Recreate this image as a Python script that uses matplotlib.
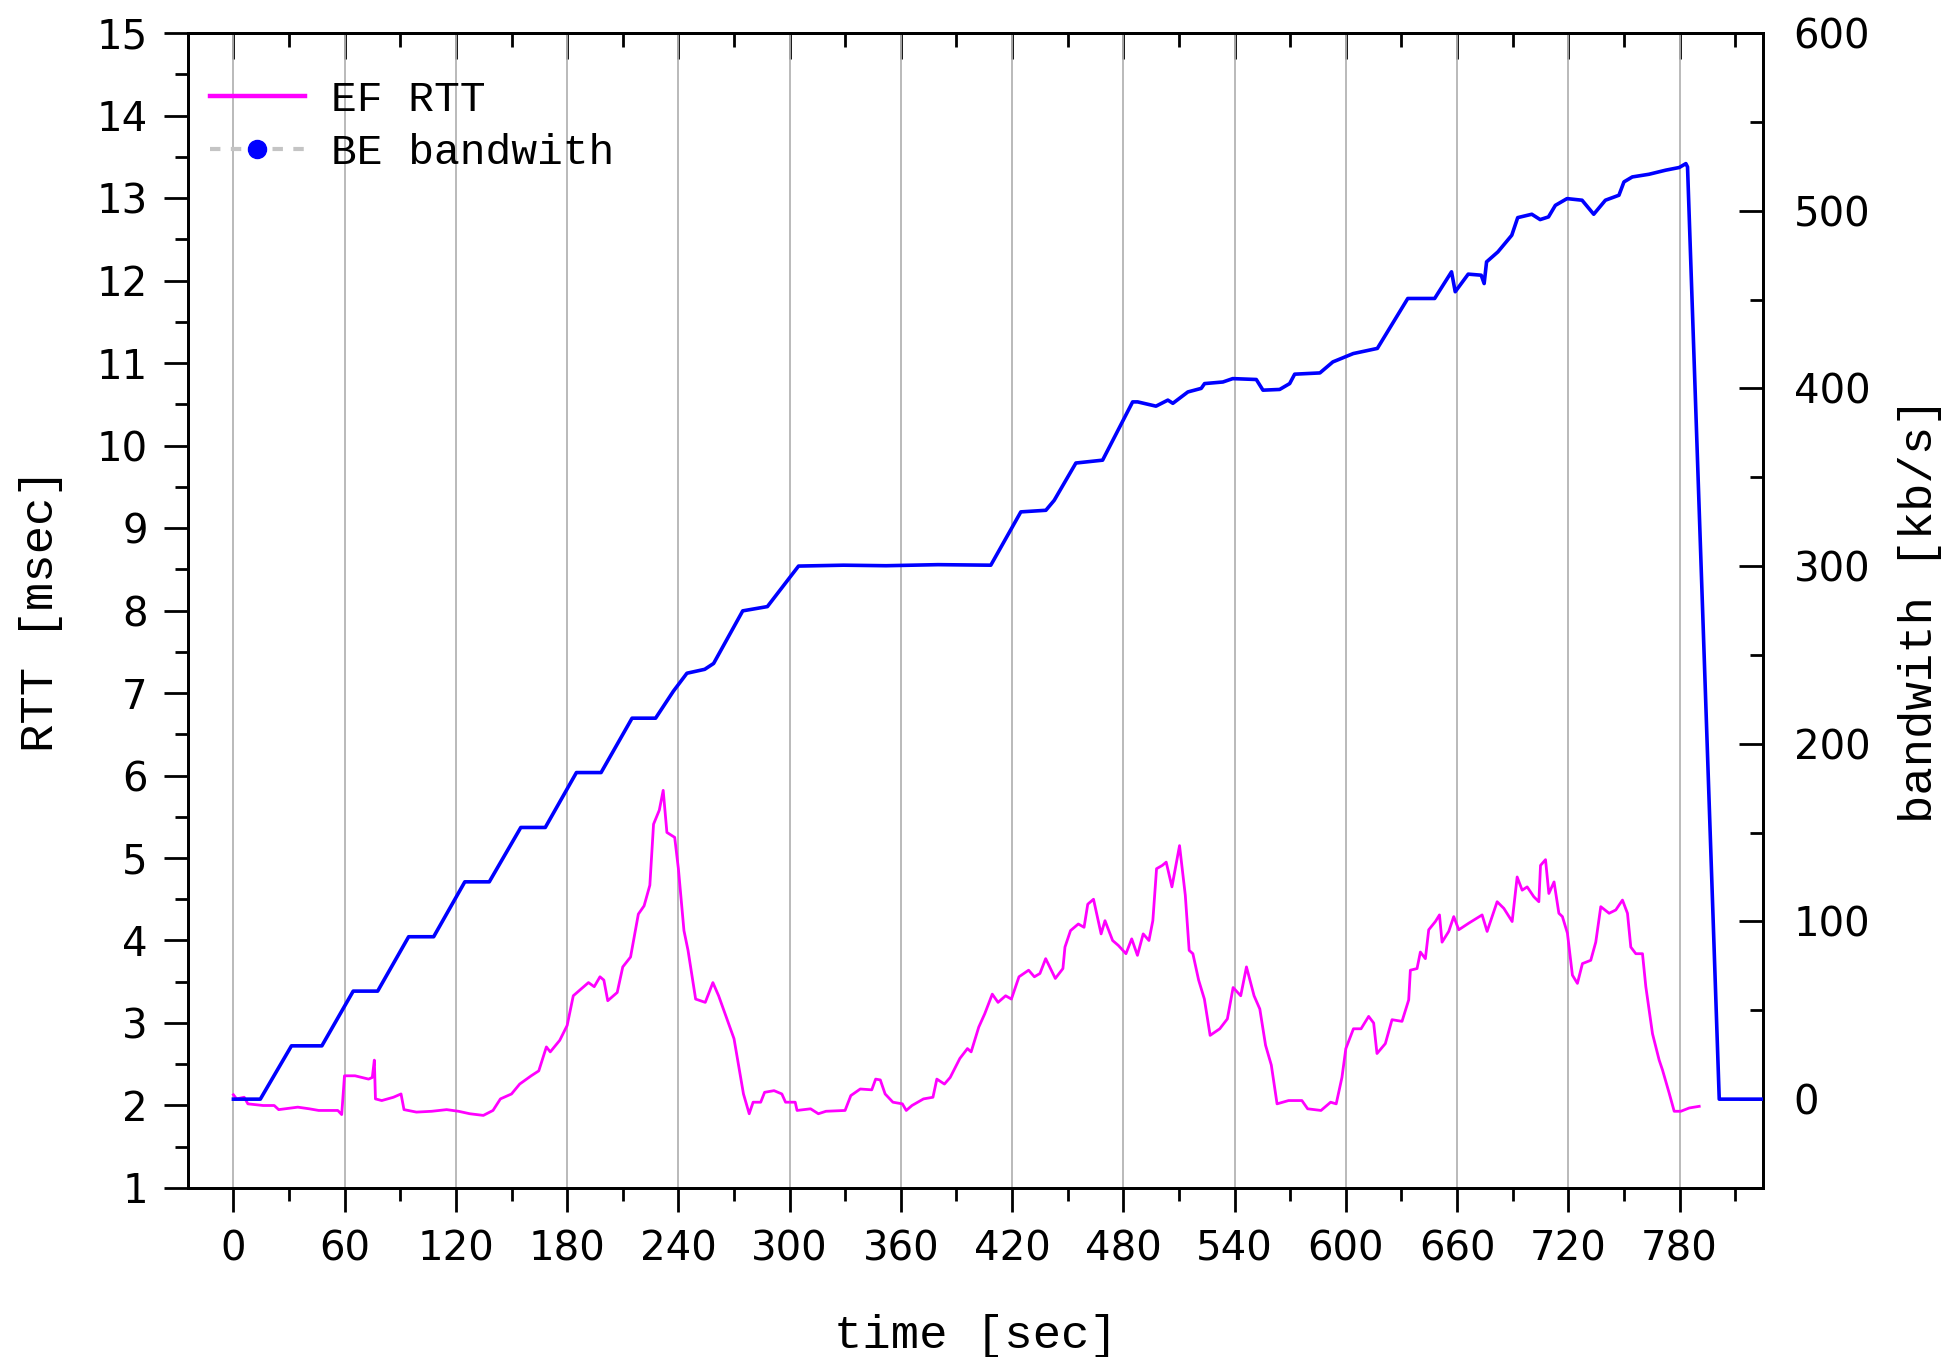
import matplotlib
matplotlib.use("Agg")
import matplotlib.pyplot as plt
from matplotlib.lines import Line2D
from matplotlib.ticker import MultipleLocator

# ---------------- data ----------------
t_bw = [0, 14.5, 31.3, 47.7, 64.6, 77.8, 94.5, 108, 124.8, 138, 155, 168.2,
        185, 198.3, 215, 227.7, 237.3, 244.6, 254.2, 259, 274.7, 288, 304.8,
        329, 352, 380, 408.5, 424.7, 438.2, 442.7, 454.4, 468.8, 485, 487.7,
        497.6, 504, 506.7, 514.8, 522, 523.8, 533.7, 539, 551.7, 555.3, 564.3,
        569.7, 572.4, 586, 593, 604, 617, 633.4, 647.9, 657, 659, 666, 673,
        674.6, 675.9, 682, 689.5, 692.7, 700.3, 704.8, 709.3, 713, 719.3,
        727.4, 733.7, 740, 747.3, 750, 754.5, 763.5, 772.5, 779.8, 783.4,
        784.3, 801.4, 830]
bw = [0, 0, 30, 30, 60.8, 60.8, 91.4, 91.4, 122.3, 122.3, 152.9, 152.9,
      183.8, 183.8, 214.4, 214.4, 229.6, 239.7, 241.9, 245.2, 274.8, 277.2, 300,
      300.5, 300.2, 300.8, 300.5, 330.5, 331.4, 337, 358, 359.6, 392.4, 392.4,
      390, 393.4, 391.6, 398, 400, 402.7, 403.6, 405.5, 405, 399, 399.4,
      402.7, 408, 408.7, 414.9, 419.6, 422.5, 450.6, 450.6, 465.6, 454.4, 464.3, 463.7,
      459, 471.2, 476.8, 486.2, 496.1, 498, 495, 496.5, 503, 506.8,
      505.9, 498, 505.9, 508.7, 516.2, 519, 520.5, 522.8, 524.3, 526.5,
      524.6, 0, 0]

t_rtt = [0, 1.7, 5.8, 7.8, 16, 22, 24.4, 34.7, 40.9, 46, 56.3, 58.4, 59.9,
         65.6, 72.9, 74.9, 76, 76.6, 80, 86.3, 90.4, 92, 98.7, 107, 115,
         121.4, 127.5, 134.8, 140, 144, 150, 154.4, 160.6, 164.7, 168.8,
         170.9, 176, 180, 183.3, 187.4, 191.5, 194.6, 197.7, 199.8, 201.9,
         207, 210, 214.2, 218.4, 221.5, 224.6, 226.6, 229.7, 231.8, 233.8,
         238, 240, 243, 245.2, 249.3, 254.5, 258.6, 261.7, 270, 275.1, 278.2,
         280.3, 284.4, 286.5, 291.6, 295.8, 297.8,
         303, 304, 311.3, 315.5, 319.6, 329.9, 333, 338.1, 344.3, 346.4,
         348.9, 351.5, 355.7, 360.8, 362.9, 366, 372.2, 377.3, 379.4, 383.5,
         386.6, 391.8, 395.9, 397.9, 402, 405.2, 409.3, 412.4, 416.5, 419.6,
         423.7, 428.9, 432, 435, 438.1, 443.3, 447.4, 448.5, 451.5, 455.7,
         458.8, 460.8, 463.9, 468, 470.1, 474.2, 477.3, 481.4, 484.5, 487.6,
         490.7, 493.8, 495.9, 497.9, 501, 503.1, 506.2, 510.3, 513.4, 515.5,
         517.5, 520.6, 523.7, 526.8, 532, 536.1, 539.2, 543.3, 546.4, 550.5,
         553.6, 556.7, 559.8, 562.9, 569.1, 576.3, 579.4, 586.6, 591.8, 594.8,
         597.9, 600, 604.1, 608.2,
         612.3, 615, 616.8, 621.3, 624.9, 630.3, 633.9, 634.8, 638.4, 640.2,
         642.9, 644.7, 648.3, 650.5, 651.9, 655.5, 658.2, 660.9, 666.3, 673.5,
         676.2, 681.6, 685.2, 689.7, 692.4, 695.1, 697.8, 701.4, 704.1, 705,
         707.7, 709.5, 712.3, 714.9, 716.8, 719.5, 722.2, 724.9, 727.6, 732.1,
         734.8, 737.5, 742, 745.6, 749.2, 751.9, 753.7, 756.4, 760, 761.8,
         765.4, 769, 770.8, 774.4, 777.1, 780.7, 785.2, 790.6]
rtt = [2.13, 2.08, 2.10, 2.02, 2.0, 2.0, 1.95, 1.98, 1.96, 1.94, 1.94, 1.89, 2.36,
       2.36, 2.32, 2.34, 2.55, 2.08, 2.06, 2.10, 2.14, 1.95, 1.92, 1.93, 1.95,
       1.93, 1.90, 1.88, 1.94, 2.08, 2.14, 2.26, 2.36, 2.42, 2.71,
       2.65, 2.79, 2.97, 3.33, 3.41, 3.49, 3.44, 3.56, 3.52, 3.27,
       3.37, 3.68, 3.80, 4.32, 4.42, 4.67, 5.41, 5.58, 5.82, 5.31,
       5.25, 4.87, 4.12, 3.88, 3.29, 3.25, 3.49, 3.33, 2.81, 2.14, 1.90,
       2.04, 2.04, 2.16, 2.18, 2.14, 2.04,
       2.04, 1.94, 1.96, 1.90, 1.93, 1.94, 2.12, 2.20, 2.19, 2.32,
       2.31, 2.14, 2.04, 2.02, 1.94, 2.0, 2.08, 2.10, 2.32, 2.26,
       2.34, 2.57, 2.69, 2.65, 2.95, 3.11, 3.35, 3.25, 3.33, 3.29,
       3.56, 3.64, 3.56, 3.60, 3.78, 3.54, 3.66, 3.92, 4.12, 4.20,
       4.16, 4.44, 4.5, 4.08, 4.24, 4.0, 3.94, 3.84, 4.02, 3.82,
       4.08, 4.0, 4.24, 4.87, 4.91, 4.95, 4.65, 5.15, 4.55, 3.88,
       3.84, 3.52, 3.29, 2.85, 2.93, 3.05, 3.43, 3.33, 3.68, 3.33,
       3.17, 2.73, 2.49, 2.02, 2.06, 2.06, 1.96, 1.94, 2.04, 2.02,
       2.34, 2.69, 2.93, 2.93,
       3.08, 3.00, 2.63, 2.75, 3.04, 3.02, 3.28, 3.64, 3.66, 3.86,
       3.78, 4.13, 4.23, 4.31, 3.98, 4.11, 4.29, 4.13, 4.21, 4.31,
       4.11, 4.47, 4.39, 4.23, 4.77, 4.61, 4.65, 4.53, 4.47, 4.91,
       4.98, 4.57, 4.71, 4.33, 4.29, 4.09, 3.58, 3.48, 3.72, 3.76,
       3.98, 4.41, 4.33, 4.37, 4.49, 4.33, 3.92, 3.84, 3.84, 3.44,
       2.87, 2.55, 2.43, 2.15, 1.93, 1.93, 1.97, 1.99]

x_ticks = list(range(0, 781, 60))
rtt_ticks = list(range(1, 16))
bw_ticks = list(range(0, 601, 100))

labels = ["EF RTT", "BE bandwith"]

# ---------------- figure ----------------
mono = "Liberation Mono"
sans = "DejaVu Sans"
plt.rcParams["font.family"] = sans

fig = plt.figure(figsize=(19.46, 13.57), dpi=100)
ax = fig.add_axes([0.09661, 0.12454, 0.80935, 0.85114])
ax2 = ax.twinx()

for a in (ax, ax2):
    for s in a.spines.values():
        s.set_linewidth(2.0)
        s.set_color("black")

ax.plot(t_rtt, rtt, color="#ff00ff", lw=2.0, zorder=3)
ax2.plot(t_bw, bw, color="#0000ff", lw=2.6, zorder=3)

ax.set_xlim(-24.5, 825)
ax.set_ylim(1, 15)
ax2.set_ylim(-50, 600)

ax.set_xticks(x_ticks)
ax.xaxis.set_minor_locator(MultipleLocator(30))
ax.set_yticks(rtt_ticks)
ax.yaxis.set_minor_locator(MultipleLocator(0.5))
ax2.set_yticks(bw_ticks)
ax2.yaxis.set_minor_locator(MultipleLocator(50))

ax.grid(True, axis="x", which="major", color="#b4b4b4", lw=1.3)
ax.set_axisbelow(True)

ax.tick_params(axis="x", which="major", direction="out", length=17, width=2,
               labelsize=29, pad=13, top=False)
ax.tick_params(axis="x", which="minor", direction="out", length=9.5, width=2, top=False)
ax.tick_params(axis="y", which="major", direction="out", length=17, width=2,
               labelsize=29, pad=12, right=False)
ax.tick_params(axis="y", which="minor", direction="out", length=9.5, width=2, right=False)
ax2.tick_params(axis="y", which="major", direction="in", length=17, width=2,
                labelsize=29, pad=22)
ax2.tick_params(axis="y", which="minor", direction="in", length=9.5, width=2)

secx = ax.secondary_xaxis("top")
secx.set_xticks(x_ticks)
secx.xaxis.set_minor_locator(MultipleLocator(30))
secx.tick_params(axis="x", which="major", direction="in", length=19, width=2, labeltop=False)
secx.tick_params(axis="x", which="minor", direction="in", length=10, width=2)
secx.spines["top"].set_linewidth(2.0)

ax.set_xlabel("time [sec]", family=mono, fontsize=34, labelpad=32)
ax.set_ylabel("RTT [msec]", family=mono, fontsize=34, labelpad=24)
ax2.set_ylabel("bandwith [kb/s]", family=mono, fontsize=34, labelpad=20)

handles = [
    Line2D([], [], color="#ff00ff", lw=3.2),
    Line2D([], [], color="#c4c4c4", lw=3, ls=(0, (2.5, 2.5)), marker="o",
           markersize=13, markerfacecolor="#0000ff", markeredgecolor="#0000ff"),
]
leg = ax2.legend(handles, labels, loc="upper left",
                 bbox_to_anchor=(210 / 1946, 1 - 80 / 1357),
                 bbox_transform=fig.transFigure, frameon=False,
                 borderpad=0, borderaxespad=0, handlelength=2.2,
                 handletextpad=0.6, labelspacing=0.3,
                 prop={"family": mono, "size": 31})

fig.savefig("out.png", dpi=100)
